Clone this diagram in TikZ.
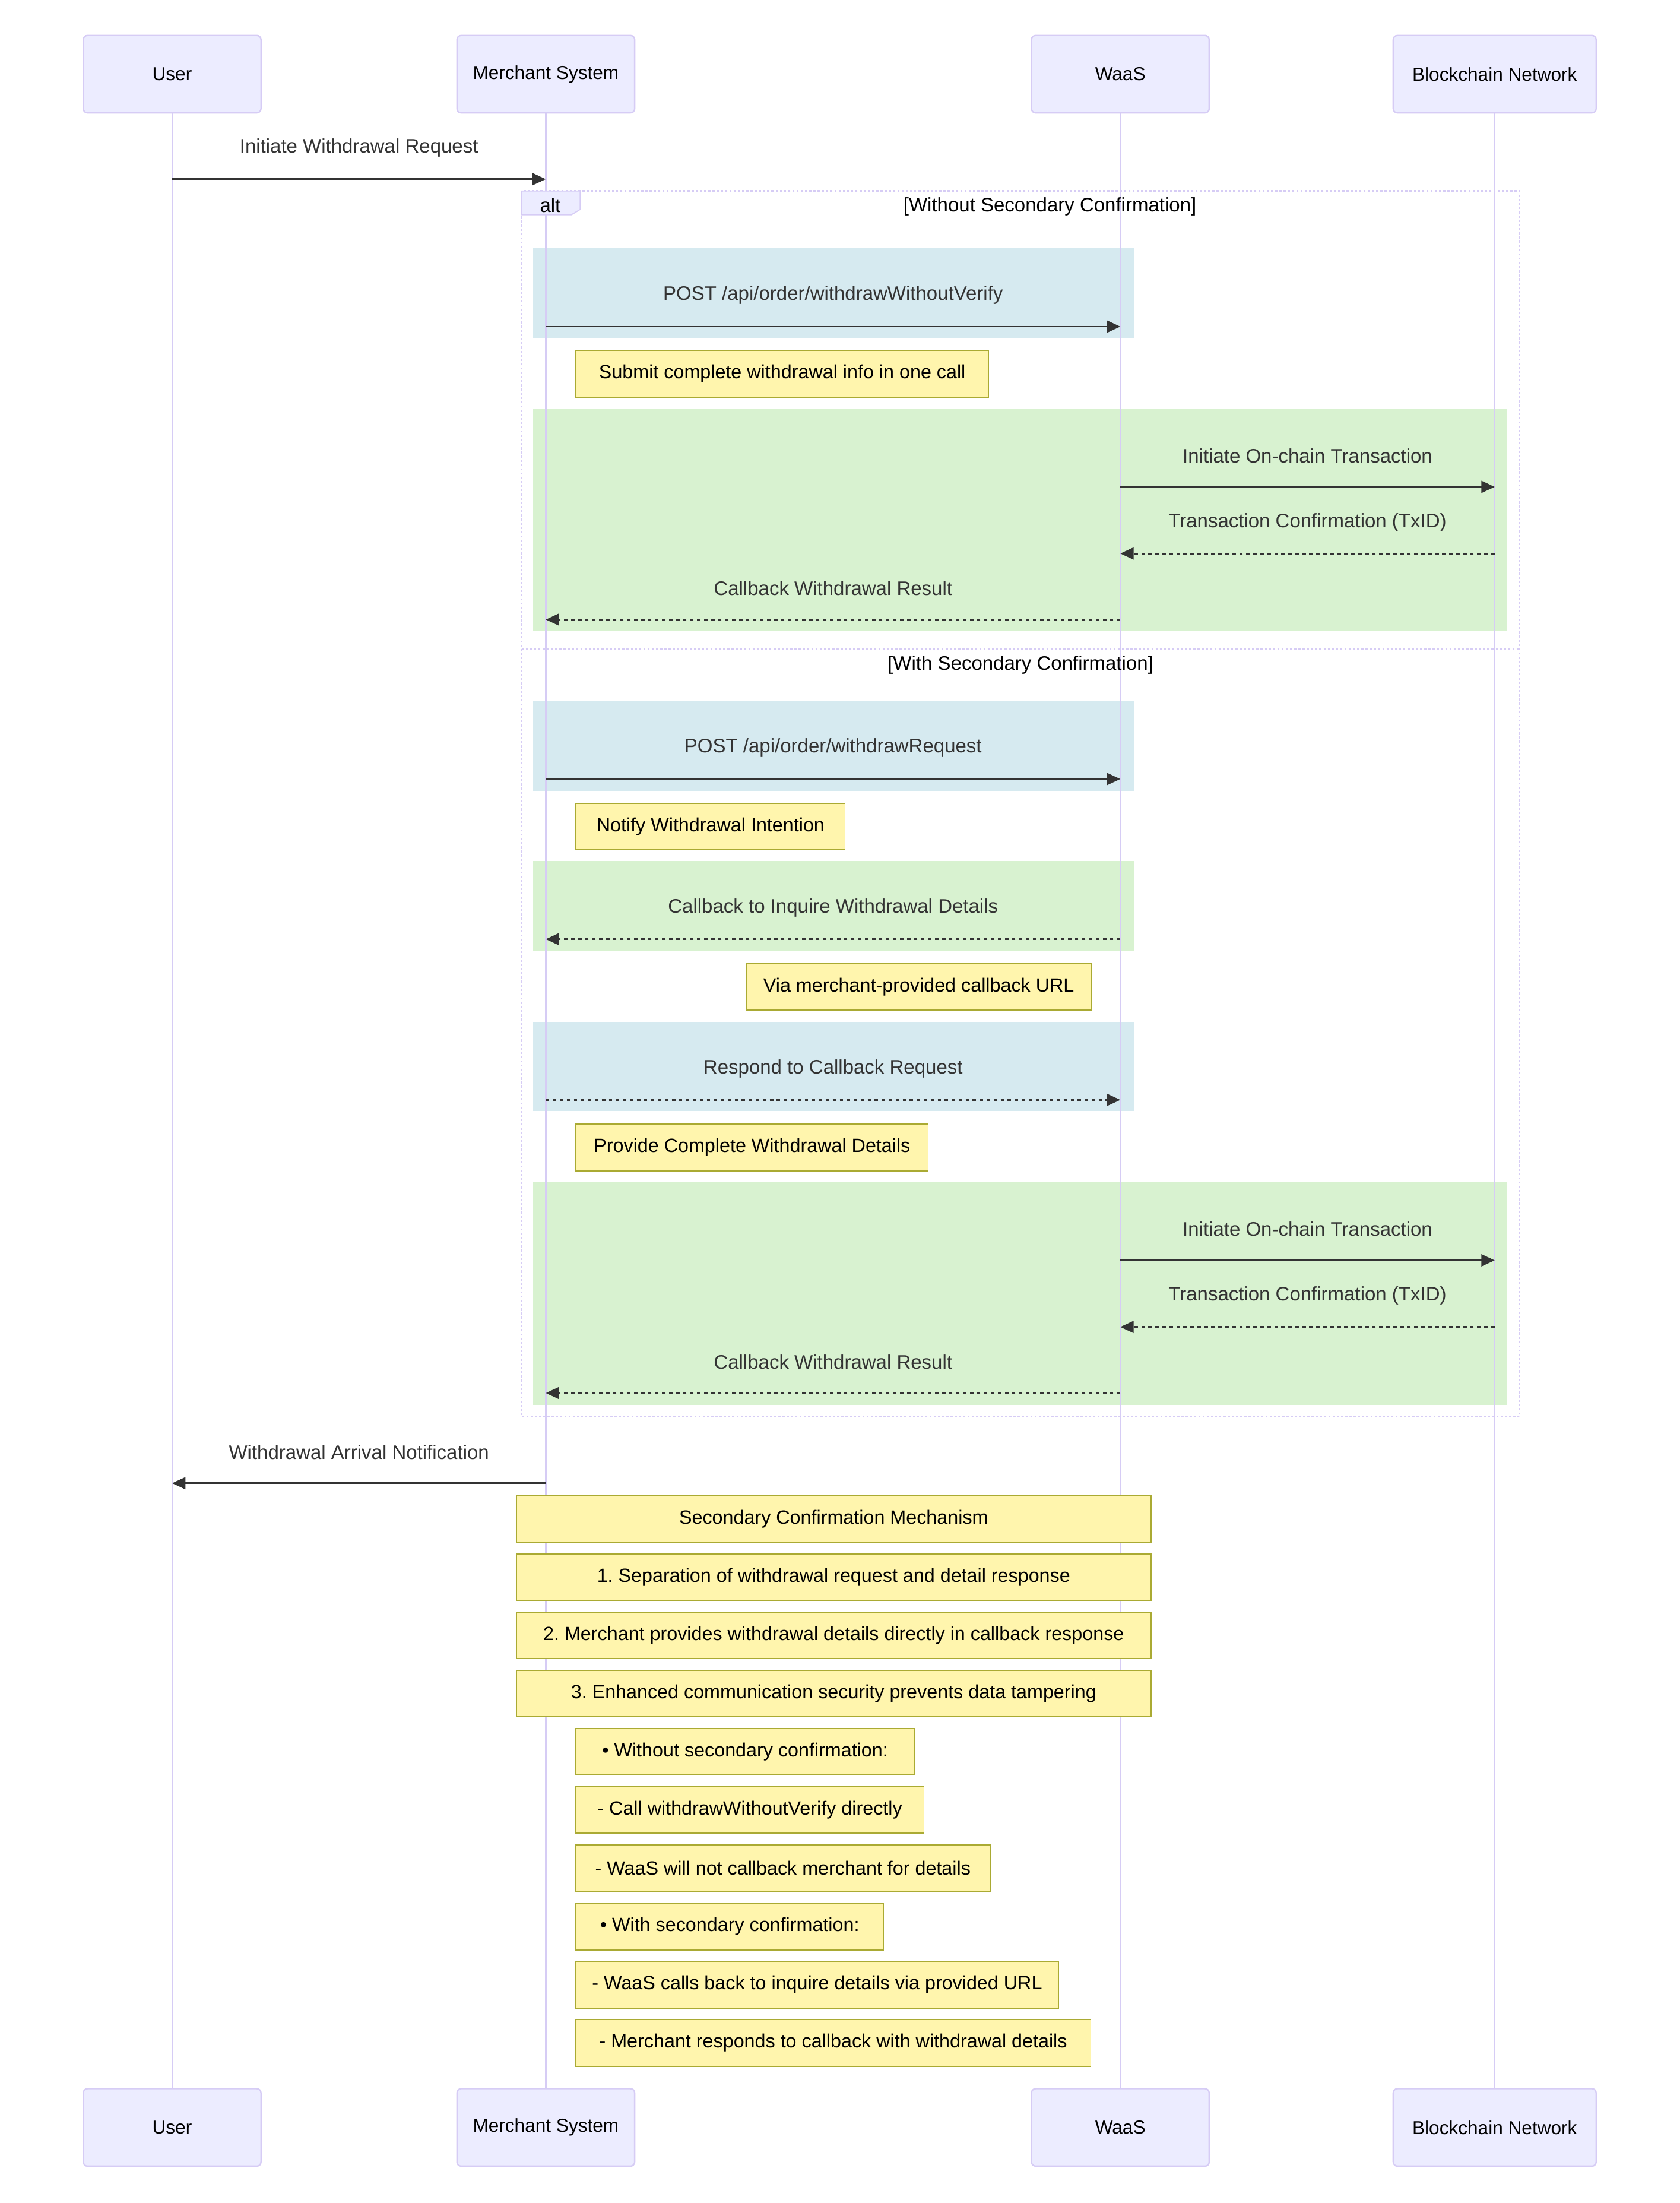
\documentclass[tikz,border=0pt]{standalone}
\usepackage{fontspec}
\setmainfont{Liberation Sans}
\usepackage{tikz}
\usetikzlibrary{shapes,arrows,arrows.meta}
\frenchspacing
\definecolor{actfill}{HTML}{ECECFF}
\definecolor{actline}{RGB}{214,204,245}
\definecolor{notefill}{HTML}{FFF5AD}
\definecolor{noteline}{HTML}{AAAA33}
\definecolor{bluebg}{RGB}{214,234,240}
\definecolor{greenbg}{RGB}{216,242,208}
\definecolor{msgcol}{HTML}{333333}
\tikzstyle{actor} = [draw=actline, fill=actfill, line width=1pt, rounded corners=3pt, minimum width=127pt, minimum height=55.3pt, font=\fontsize{13.4}{16}\selectfont]
\tikzstyle{life} = [draw=actline, line width=1pt]
\tikzstyle{msg} = [draw=msgcol, line width=1.2pt, ->]
\tikzstyle{reply} = [msg, dash pattern=on 2.5pt off 2.5pt]
\tikzstyle{lbl} = [text=msgcol, font=\fontsize{14}{16}\selectfont, yshift=22.3pt]
\tikzstyle{note} = [draw=noteline, fill=notefill, line width=0.8pt, anchor=north west, minimum height=33.3pt, inner sep=0pt, font=\fontsize{13.7}{16}\selectfont]
\tikzstyle{bluebox} = [fill=bluebg]
\tikzstyle{greenbox} = [fill=greenbg]
\tikzstyle{frame} = [draw=actline, line width=1.2pt, dash pattern=on 1.5pt off 1.5pt]
\tikzstyle{title} = [font=\fontsize{14}{16}\selectfont]

\begin{document}
\begin{tikzpicture}[x=1pt,y=-1pt,>={Triangle[length=9.5pt,width=8.5pt]},node distance=267pt]

  \useasboundingbox (0,0) rectangle (1200,1573.7);

  \fill[bluebox] (381,177.3) rectangle (810,241.5);
  \fill[greenbox] (381,291.7) rectangle (1077,451);
  \fill[bluebox] (381,500.7) rectangle (810,564.9);
  \fill[greenbox] (381,615.2) rectangle (810,679.2);
  \fill[bluebox] (381,729.8) rectangle (810,793.8);
  \fill[greenbox] (381,844.2) rectangle (1077,1003.5);

  \node[actor] (U) at (123,53) {User};
  \node[actor] (M) [right of=U] {Merchant System};
  \node[actor] (W) [right of=M, node distance=410.5pt] {WaaS};
  \node[actor, minimum width=145pt] (B) [right of=W, node distance=267.5pt] {Blockchain Network};
  \node[actor] (Ub) [below of=U, node distance=1466.7pt] {User};
  \node[actor] (Mb) [below of=M, node distance=1466.7pt] {Merchant System};
  \node[actor] (Wb) [below of=W, node distance=1466.7pt] {WaaS};
  \node[actor, minimum width=145pt] (Bb) [below of=B, node distance=1466.7pt] {Blockchain Network};

  \draw[life] (U.south) -- (Ub.north);
  \draw[life] (M.south) -- (Mb.north);
  \draw[life] (W.south) -- (Wb.north);
  \draw[life] (B.south) -- (Bb.north);

  \draw[frame] (372.7,136.5) rectangle (1085.7,1012);
  \draw[frame] (372.7,463.8) -- (1085.7,463.8);
  \draw[draw=actline, fill=actfill, line width=0.8pt] (372.7,136.5) -- (414.6,136.5) -- (414.6,149.6) -- (408.3,153.4) -- (372.7,153.4) -- cycle;
  \node[title] (alt) at (393.2,146.5) {alt};
  \node[title] (t1) at (750.2,147.8) {[Without Secondary Confirmation]};
  \node[title] (t2) at (729.2,475.1) {[With Secondary Confirmation]};

  \coordinate (r0) at (0,128);
  \coordinate (r1) at (0,233.3);
  \coordinate (r2) at (0,347.8);
  \coordinate (r3) at (0,395.4);
  \coordinate (r4) at (0,442.6);
  \coordinate (r5) at (0,556.5);
  \coordinate (r6) at (0,670.9);
  \coordinate (r7) at (0,785.7);
  \coordinate (r8) at (0,900.3);
  \coordinate (r9) at (0,947.9);
  \coordinate (r10) at (0,995.1);
  \coordinate (r11) at (0,1059.5);

  \draw[msg] (U |- r0) -- node[lbl] {Initiate Withdrawal Request} (M |- r0);
  \draw[msg] (M |- r1) -- node[lbl] {POST /api/order/withdrawWithoutVerify} (W |- r1);
  \draw[msg] (W |- r2) -- node[lbl] {Initiate On-chain Transaction} (B |- r2);
  \draw[reply] (B |- r3) -- node[lbl] {Transaction Confirmation (TxID)} (W |- r3);
  \draw[reply] (W |- r4) -- node[lbl] {Callback Withdrawal Result} (M |- r4);
  \draw[msg] (M |- r5) -- node[lbl] {POST /api/order/withdrawRequest} (W |- r5);
  \draw[reply] (W |- r6) -- node[lbl] {Callback to Inquire Withdrawal Details} (M |- r6);
  \draw[reply] (M |- r7) -- node[lbl] {Respond to Callback Request} (W |- r7);
  \draw[msg] (W |- r8) -- node[lbl] {Initiate On-chain Transaction} (B |- r8);
  \draw[reply] (B |- r9) -- node[lbl] {Transaction Confirmation (TxID)} (W |- r9);
  \draw[reply] (W |- r10) -- node[lbl] {Callback Withdrawal Result} (M |- r10);
  \draw[msg] (M |- r11) -- node[lbl] {Withdrawal Arrival Notification} (U |- r11);

  \node[note, minimum width=294.7pt] (n1) at (411.2,250) {Submit complete withdrawal info in one call};
  \node[note, minimum width=192.2pt] (n2) at (411.2,573.4) {Notify Withdrawal Intention};
  \node[note, minimum width=247pt] (n3) at (532.6,687.8) {Via merchant-provided callback URL};
  \node[note, minimum width=251.6pt] (n4) at (411.2,802.6) {Provide Complete Withdrawal Details};
  \node[note, minimum width=453.4pt] (n5) at (368.6,1067.9) {Secondary Confirmation Mechanism};
  \node[note, minimum width=453.4pt] (n6) at (368.6,1109.5) {1. Separation of withdrawal request and detail response};
  \node[note, minimum width=453.4pt] (n7) at (368.6,1151.1) {2. Merchant provides withdrawal details directly in callback response};
  \node[note, minimum width=453.4pt] (n8) at (368.6,1192.7) {3. Enhanced communication security prevents data tampering};
  \node[note, minimum width=242pt] (n9) at (411,1234.3) {• Without secondary confirmation:};
  \node[note, minimum width=248.8pt] (n10) at (411,1275.9) {- Call withdrawWithoutVerify directly};
  \node[note, minimum width=296pt] (n11) at (411,1317.5) {- WaaS will not callback merchant for details};
  \node[note, minimum width=220pt] (n12) at (411,1359.1) {• With secondary confirmation:};
  \node[note, minimum width=345pt] (n13) at (411,1400.7) {- WaaS calls back to inquire details via provided URL};
  \node[note, minimum width=368pt] (n14) at (411,1442.3) {- Merchant responds to callback with withdrawal details};

\end{tikzpicture}
\end{document}
